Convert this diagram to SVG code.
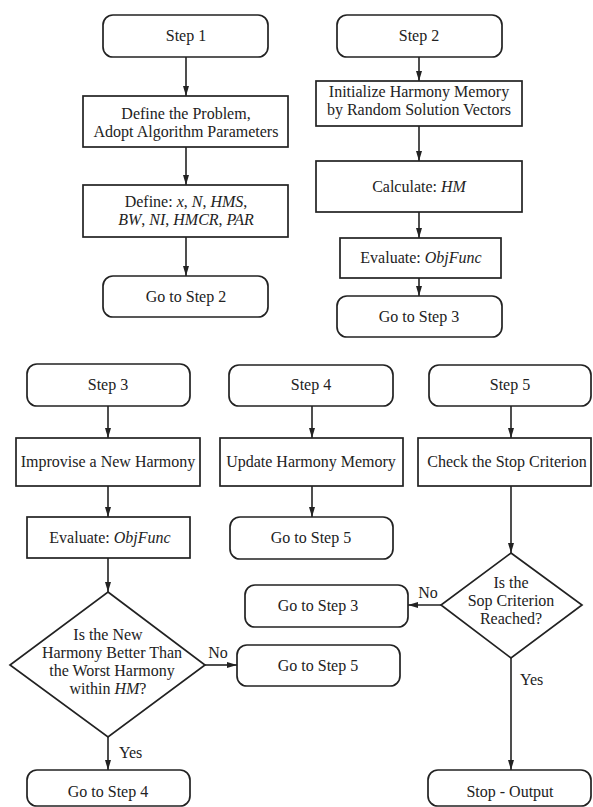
<svg xmlns="http://www.w3.org/2000/svg" width="593" height="807" viewBox="0 0 593 807">
<style>
.b{fill:#fff;stroke:#222;stroke-width:1.7}
.t{font-family:"Liberation Serif","Times New Roman",serif;font-size:16px;fill:#222;text-anchor:middle}
.l{font-family:"Liberation Serif","Times New Roman",serif;font-size:16px;fill:#222}
.c{stroke:#222;stroke-width:1.6;fill:none;marker-end:url(#ah)}
</style>
<defs>
<marker id="ah" markerUnits="userSpaceOnUse" markerWidth="10" markerHeight="6" refX="10" refY="3" orient="auto">
<path d="M0,0 L10,3 L0,6 z" fill="#222"/>
</marker>
</defs>
<rect width="593" height="807" fill="#fff"/>
<g id="connectors">
<line class="c" x1="186" y1="57" x2="186" y2="96"/>
<line class="c" x1="186" y1="147" x2="186" y2="185"/>
<line class="c" x1="186" y1="237" x2="186" y2="276"/>
<line class="c" x1="419" y1="57" x2="419" y2="81"/>
<line class="c" x1="419" y1="126" x2="419" y2="161"/>
<line class="c" x1="419" y1="212" x2="419" y2="238"/>
<line class="c" x1="419" y1="278" x2="419" y2="296"/>
<line class="c" x1="108" y1="406" x2="108" y2="438"/>
<line class="c" x1="108" y1="486" x2="108" y2="517"/>
<line class="c" x1="108" y1="558" x2="108" y2="592"/>
<line class="c" x1="205" y1="665" x2="237" y2="665"/>
<line class="c" x1="108" y1="737" x2="108" y2="770"/>
<line class="c" x1="312" y1="406" x2="312" y2="438"/>
<line class="c" x1="312" y1="486" x2="312" y2="517"/>
<line class="c" x1="511" y1="406" x2="511" y2="438"/>
<line class="c" x1="511" y1="486" x2="511" y2="553"/>
<line class="c" x1="441" y1="605" x2="408" y2="605"/>
<line class="c" x1="511" y1="658" x2="511" y2="770"/>
<text class="t" x="218" y="658">No</text>
<text class="l" x="119" y="758">Yes</text>
<text class="t" x="428" y="598">No</text>
<text class="l" x="520" y="685">Yes</text>
</g>
<g id="step1"><rect class="b" x="103" y="15" width="165" height="42" rx="10"/><text class="t" x="186" y="41">Step 1</text></g>
<g id="define-problem"><rect class="b" x="83" y="96" width="205" height="51"/><text class="t" x="186" y="119">Define the Problem,</text><text class="t" x="186" y="137">Adopt Algorithm Parameters</text></g>
<g id="define-params"><rect class="b" x="83" y="185" width="205" height="52"/><text class="t" x="186" y="207">Define: <tspan font-style="italic">x</tspan>, <tspan font-style="italic">N</tspan>, <tspan font-style="italic">HMS</tspan>,</text><text class="t" x="186" y="225" font-style="italic">BW<tspan font-style="normal">, </tspan>NI<tspan font-style="normal">, </tspan>HMCR<tspan font-style="normal">, </tspan>PAR</text></g>
<g id="goto2"><rect class="b" x="103" y="276" width="165" height="41" rx="10"/><text class="t" x="186" y="302">Go to Step 2</text></g>
<g id="step2"><rect class="b" x="337" y="15" width="165" height="42" rx="10"/><text class="t" x="419" y="41">Step 2</text></g>
<g id="init-hm"><rect class="b" x="316" y="81" width="206" height="45"/><text class="t" x="419" y="97">Initialize Harmony Memory</text><text class="t" x="419" y="115">by Random Solution Vectors</text></g>
<g id="calc-hm"><rect class="b" x="316" y="161" width="206" height="51"/><text class="t" x="419" y="192">Calculate: <tspan font-style="italic">HM</tspan></text></g>
<g id="eval1"><rect class="b" x="340" y="238" width="161" height="40"/><text class="t" x="421" y="263">Evaluate: <tspan font-style="italic">ObjFunc</tspan></text></g>
<g id="goto3a"><rect class="b" x="337" y="296" width="165" height="41" rx="10"/><text class="t" x="419" y="322">Go to Step 3</text></g>
<g id="step3"><rect class="b" x="27" y="364" width="163" height="42" rx="10"/><text class="t" x="108" y="390">Step 3</text></g>
<g id="improvise"><rect class="b" x="16" y="438" width="184" height="48"/><text class="t" x="108" y="467">Improvise a New Harmony</text></g>
<g id="eval2"><rect class="b" x="27" y="517" width="163" height="41"/><text class="t" x="110" y="543">Evaluate: <tspan font-style="italic">ObjFunc</tspan></text></g>
<g id="decision1"><polygon class="b" points="108,592 205,665 108,737 10,665"/><text class="t" x="108" y="640">Is the New</text><text class="t" x="112" y="658">Harmony Better Than</text><text class="t" x="112" y="676">the Worst Harmony</text><text class="t" x="108" y="694">within <tspan font-style="italic">HM</tspan>?</text></g>
<g id="goto4"><rect class="b" x="27" y="770" width="163" height="36" rx="10"/><text class="t" x="108" y="797">Go to Step 4</text></g>
<g id="step4"><rect class="b" x="229" y="365" width="164" height="41" rx="10"/><text class="t" x="311" y="390">Step 4</text></g>
<g id="update"><rect class="b" x="220" y="438" width="183" height="48"/><text class="t" x="311" y="467">Update Harmony Memory</text></g>
<g id="goto5a"><rect class="b" x="230" y="517" width="163" height="42" rx="10"/><text class="t" x="311" y="543">Go to Step 5</text></g>
<g id="goto3b"><rect class="b" x="245" y="585" width="163" height="42" rx="10"/><text class="t" x="318" y="611">Go to Step 3</text></g>
<g id="goto5b"><rect class="b" x="237" y="645" width="163" height="41" rx="10"/><text class="t" x="318" y="671">Go to Step 5</text></g>
<g id="step5"><rect class="b" x="429" y="365" width="162" height="41" rx="10"/><text class="t" x="510" y="390">Step 5</text></g>
<g id="check"><rect class="b" x="418" y="438" width="173" height="48"/><text class="t" x="507" y="467">Check the Stop Criterion</text></g>
<g id="decision2"><polygon class="b" points="511,553 582,605 511,658 441,605"/><text class="t" x="511" y="588">Is the</text><text class="t" x="511" y="606">Sop Criterion</text><text class="t" x="511" y="624">Reached?</text></g>
<g id="stop"><rect class="b" x="428" y="770" width="163" height="36" rx="10"/><text class="t" x="510" y="797">Stop - Output</text></g>
</svg>
